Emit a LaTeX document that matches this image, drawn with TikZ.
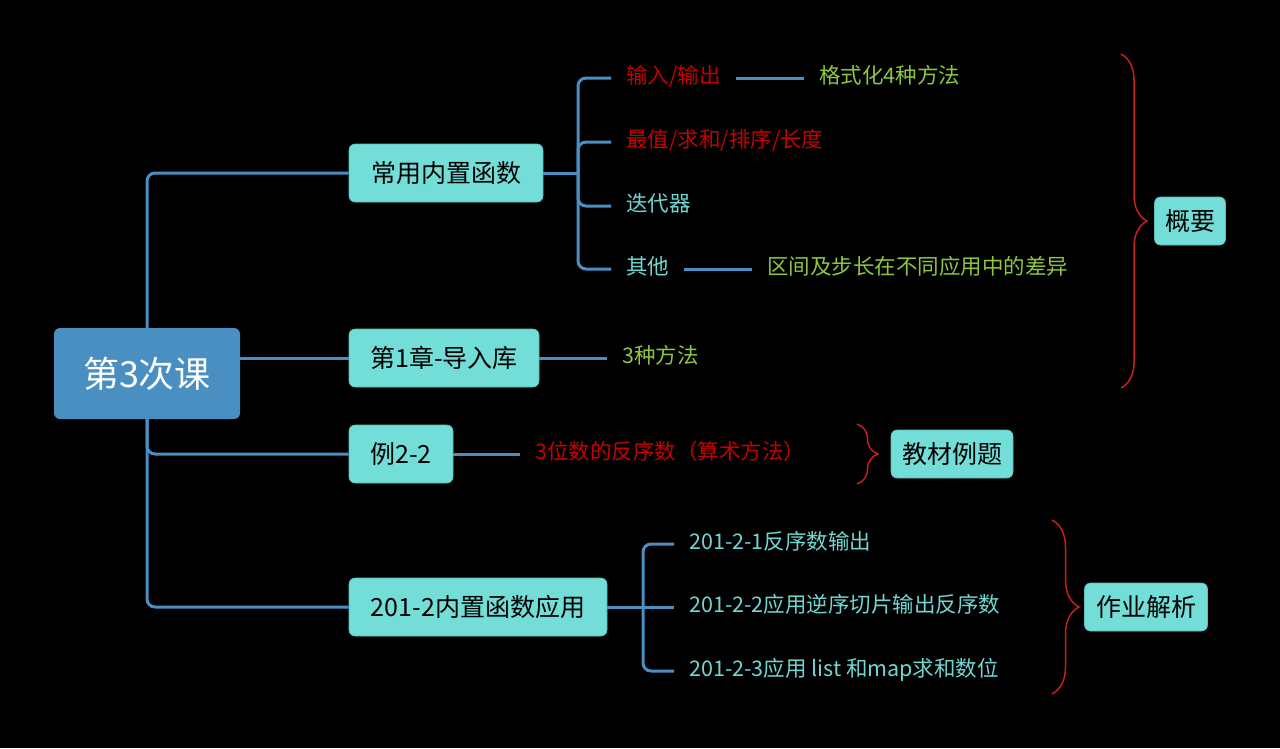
\documentclass[tikz,border=0pt]{standalone}
\usepackage{fontspec}
\setmainfont{Noto Sans CJK SC}
\usetikzlibrary{decorations.pathreplacing}
\definecolor{linec}{RGB}{74,143,196}
\definecolor{rootc}{RGB}{74,143,194}
\definecolor{boxc}{RGB}{115,221,216}
\definecolor{boxb}{RGB}{90,190,186}
\definecolor{cyant}{RGB}{112,214,210}
\definecolor{redt}{RGB}{196,0,0}
\definecolor{greent}{RGB}{141,198,63}
\definecolor{bracec}{RGB}{200,30,30}
\begin{document}
\begin{tikzpicture}[x=1pt,y=-1pt,
  conn/.style={draw=linec,line width=3pt,rounded corners=8pt},
  rootbox/.style={fill=rootc,rounded corners=6pt,text=white,font=\fontsize{36}{42}\selectfont,minimum width=186pt,minimum height=91pt,inner sep=0pt},
  topicbox/.style={fill=boxc,draw=boxb,line width=0.6pt,rounded corners=6pt,text=black,font=\fontsize{25}{30}\selectfont,minimum height=58pt,inner sep=0pt},
  notebox/.style={fill=boxc,draw=boxb,line width=0.6pt,rounded corners=6pt,text=black,font=\fontsize{25}{30}\selectfont,minimum height=48pt,inner sep=0pt},
  leaf/.style={font=\fontsize{21.5}{26}\selectfont,inner xsep=15pt,inner ysep=2pt,text height=18pt,text depth=8pt},
  bracestyle/.style={draw=bracec,line width=1.5pt,decorate},
]
\useasboundingbox[fill=black] (0,0) rectangle (1280,748);

% main nodes
\node[rootbox] (root) at (147,373.5) {第3次课};
\node[topicbox,minimum width=194pt] (b1) at (446,173) {常用内置函数};
\node[topicbox,minimum width=190pt] (b2) at (444,358) {第1章-导入库};
\node[topicbox,minimum width=104pt] (b3) at (401,454) {例2-2};
\node[topicbox,minimum width=258pt] (b4) at (478,607) {201-2内置函数应用};

% trunk
\draw[conn] (root.north) |- (b1.west);
\draw[conn] (root.east |- b2) -- (b2.west);
\draw[conn] (root.south) |- (b3.west);
\draw[conn] (root.south) |- (b4.west);

% branch 1 children
\coordinate (j1) at (578,173);
\node[leaf,anchor=west,text=redt] (c1) at (611,78) {输入/输出};
\node[leaf,anchor=west,text=redt] (c2) at (611,142) {最值/求和/排序/长度};
\node[leaf,anchor=west,text=cyant] (c3) at (611,206) {迭代器};
\node[leaf,anchor=west,text=cyant] (c4) at (611,269) {其他};
\draw[conn] (b1.east) -- (j1);
\draw[conn] (j1) |- (c1.west);
\draw[conn] (j1) |- (c2.west);
\draw[conn] (j1) |- (c3.west);
\draw[conn] (j1) |- (c4.west);
\node[leaf,anchor=west,text=greent] (g1) at (804,78) {格式化4种方法};
\node[leaf,anchor=west,text=greent] (g4) at (752,269) {区间及步长在不同应用中的差异};
\draw[conn] (c1.east) -- (g1.west);
\draw[conn] (c4.east) -- (g4.west);

% branch 2
\node[leaf,anchor=west,text=greent] (d1) at (607,358) {3种方法};
\draw[conn] (b2.east) -- (d1.west);

% branch 3
\node[leaf,anchor=west,text=redt] (e1) at (520,454) {3位数的反序数（算术方法）};
\draw[conn] (b3.east) -- (e1.west);

% branch 4
\coordinate (j4) at (643,607);
\node[leaf,anchor=west,text=cyant] (f1) at (674,544) {201-2-1反序数输出};
\node[leaf,anchor=west,text=cyant] (f2) at (674,607) {201-2-2应用逆序切片输出反序数};
\node[leaf,anchor=west,text=cyant] (f3) at (674,671) {201-2-3应用 list 和map求和数位};
\draw[conn] (b4.east) -- (j4);
\draw[conn] (j4) |- (f1.west);
\draw[conn] (j4) -- (f2.west);
\draw[conn] (j4) |- (f3.west);

% summaries
\coordinate (s1a) at (1121,54);
\coordinate (s1b) at (1121,388);
\draw[bracestyle,decoration={brace,amplitude=26pt}] (s1a) -- (s1b);
\node[notebox,minimum width=71pt] (n1) at (1190,221) {概要};

\coordinate (s2a) at (857,424);
\coordinate (s2b) at (857,484);
\draw[bracestyle,decoration={brace,amplitude=21pt}] (s2a) -- (s2b);
\node[notebox,minimum width=122pt] (n2) at (952,454) {教材例题};

\coordinate (s3a) at (1052,520);
\coordinate (s3b) at (1052,694);
\draw[bracestyle,decoration={brace,amplitude=27pt}] (s3a) -- (s3b);
\node[notebox,minimum width=123pt] (n3) at (1146,607) {作业解析};
\end{tikzpicture}
\end{document}
